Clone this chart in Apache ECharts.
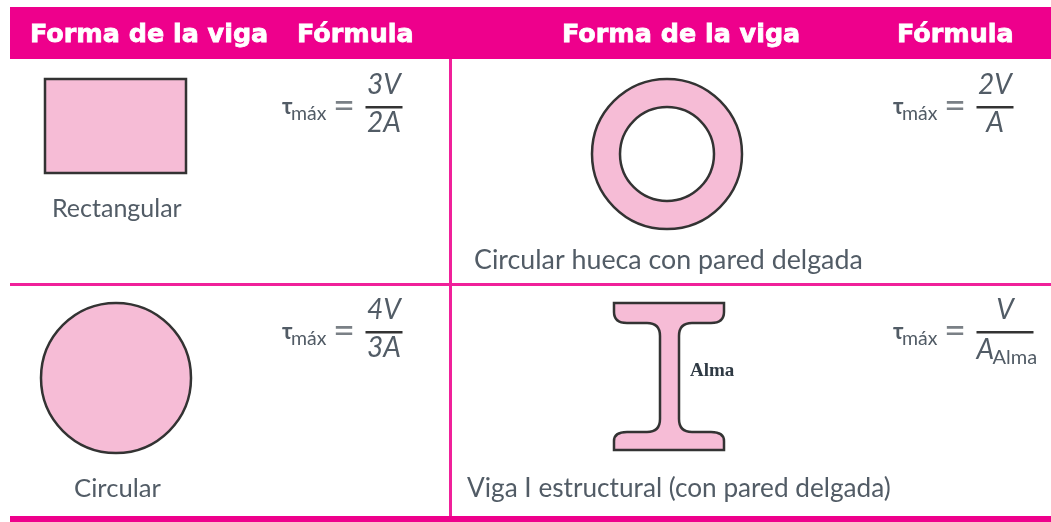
<!DOCTYPE html>
<html>
<head>
<meta charset="utf-8">
<title>Forma de la viga</title>
<style>
  html, body { margin: 0; padding: 0; background: #fff; }
  #main { width: 1051px; height: 522px; }
</style>
</head>
<body>
<div id="main"></div>
<script src="https://cdn.jsdelivr.net/npm/echarts@6/dist/echarts.min.js"></script>
<script>
var headers = ['Forma de la viga', 'Fórmula', 'Forma de la viga', 'Fórmula'];
var shapeNames = ['Rectangular', 'Circular hueca con pared delgada', 'Circular', 'Viga I estructural (con pared delgada)'];
var numerators = ['3V', '2V', '4V', 'V'];
var denominators = ['2A', 'A', '3A', 'A'];
var webLabel = 'Alma';

var PINK = '#ee008c', LINE = '#f0209a', FILL = '#f6bcd6', EDGE = '#333333', INK = '#525c66';
var HEAD = 'bold 25.4px "DejaVu Sans", sans-serif';

function body(size) { return size + 'px Lato, "Open Sans", sans-serif'; }

var g = [];

function txt(s, x, y, font, fill, align, stroke) {
  g.push({ type: 'text', style: { text: s, x: x, y: y, font: font, fill: fill, align: align || 'left', verticalAlign: 'middle', stroke: stroke || null, lineWidth: stroke ? 0.8 : 0 } });
}
function rect(x, y, w, h, fill) {
  g.push({ type: 'rect', shape: { x: x, y: y, width: w, height: h }, style: { fill: fill } });
}

// bands and rules
rect(10, 7, 1041, 52, PINK);
rect(10, 283, 1041, 3, LINE);
rect(449, 59, 3, 458, LINE);
rect(10, 516, 1041, 6, PINK);

// header
txt(headers[0], 30, 35, HEAD, '#fff', 'left', '#fff');
txt(headers[1], 297, 35, HEAD, '#fff', 'left', '#fff');
txt(headers[2], 562, 35, HEAD, '#fff', 'left', '#fff');
txt(headers[3], 897, 35, HEAD, '#fff', 'left', '#fff');

// shapes
var shapeStyle = { fill: FILL, stroke: EDGE, lineWidth: 2.5 };
g.push({ type: 'rect', shape: { x: 45, y: 79, width: 141, height: 94 }, style: shapeStyle });
g.push({ type: 'circle', shape: { cx: 116, cy: 378, r: 75 }, style: shapeStyle });
g.push({ type: 'circle', shape: { cx: 667, cy: 154, r: 75 }, style: shapeStyle });
g.push({ type: 'circle', shape: { cx: 667, cy: 154, r: 47 }, style: { fill: '#fff', stroke: EDGE, lineWidth: 2.5 } });
txt(webLabel, 690, 371, 'bold 19px "Liberation Serif", serif', '#2f3a44');

// names
txt(shapeNames[0], 52, 209, body(25), INK);
txt(shapeNames[1], 474, 260, body(26.8), INK);
txt(shapeNames[2], 74, 489, body(25.7), INK);
txt(shapeNames[3], 467, 489, body(26.2), INK);

// formulas: tau, subscript, equals, fraction
function formula(x, barY, i, barW) {
  var barX = x + 83.5;
  var cx = barX + barW / 2;
  txt('τ', x, barY, 'bold 22px Lato, sans-serif', INK);
  txt('máx', x + 9, barY + 7, body(19.5), INK);
  txt('=', x + 51, barY, body(38), '#7a8086');
  rect(barX, barY - 1, barW, 2.5, '#333');
  txt(numerators[i], cx, barY - 22, 'italic 28px Lato, sans-serif', INK, 'center');
  if (i < 3) {
    txt(denominators[i], cx, barY + 16, 'italic 28px Lato, sans-serif', INK, 'center');
  } else {
    txt(denominators[i], barX, barY + 18, 'italic 28px Lato, sans-serif', INK);
    txt(webLabel, barX + 16, barY + 26, body(20), INK);
  }
}
formula(282, 107, 0, 37);
formula(893, 107, 1, 37);
formula(282, 332, 2, 37);
formula(893, 332, 3, 57);

// I section outline, custom series because graphic has no path type
var beamPath = 'M614 303 L724 303 L724 312 Q724 323 711 323 L692 323 Q679 323 679 336 L679 419 Q679 432 692 432 L711 432 Q724 432 724 441 L724 450 L614 450 L614 441 Q614 432 627 432 L647 432 Q660 432 660 419 L660 336 Q660 323 647 323 L627 323 Q614 323 614 312 Z';

var chart = echarts.init(document.getElementById('main'));
chart.setOption({
  animation: false,
  backgroundColor: '#fff',
  graphic: { elements: g },
  series: [{
    type: 'custom',
    coordinateSystem: 'none',
    silent: true,
    data: [[0]],
    renderItem: function () {
      return {
        type: 'path',
        shape: { pathData: beamPath, layout: 'cover', x: 614, y: 303, width: 110, height: 147 },
        style: shapeStyle
      };
    }
  }]
});
</script>
</body>
</html>
